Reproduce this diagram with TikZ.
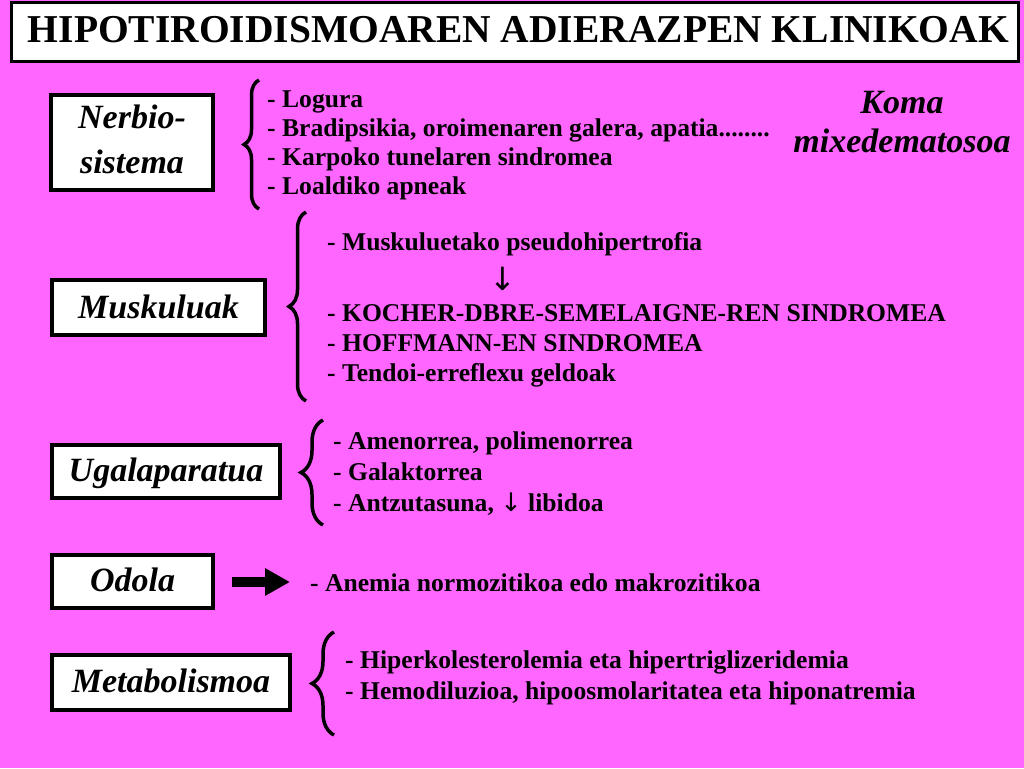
\documentclass[tikz,border=0pt]{standalone}
\usepackage{fontspec}
\setmainfont{Liberation Serif}
\newfontfamily\arrowfont{DejaVu Sans}
\usetikzlibrary{decorations.pathreplacing,arrows.meta}
\definecolor{bg}{HTML}{FF66FF}
\begin{document}
\begin{tikzpicture}[x=1pt,y=-1pt,
  lbl/.style={font=\fontsize{34}{40}\selectfont\bfseries\itshape, inner sep=0, anchor=base},
  itm/.style={font=\fontsize{25.6}{29.5}\selectfont\bfseries, anchor=base west, inner sep=0},
  box/.style={draw=black, line width=4pt, fill=white, inner sep=0},
  brc/.style={draw, line width=3.5pt, decorate, decoration={brace, amplitude=#1}},
]
\useasboundingbox (0,0) rectangle (1024,768);
\fill[bg] (0,0) rectangle (1024,768);

% title
\node[draw=black, line width=3pt, fill=white, inner sep=0, minimum width=1007pt, minimum height=59pt] (title) at (515,32) {};
\node[font=\fontsize{39.5}{44}\selectfont\bfseries, inner sep=0, anchor=base] (titletext) at (518.5,43) {HIPOTIROIDISMOAREN ADIERAZPEN KLINIKOAK};

% boxes
\node[box, minimum width=162pt, minimum height=95pt] (nerbio) at (132,142.5) {};
\node[box, minimum width=213pt, minimum height=55pt] (musku) at (158.5,307.5) {};
\node[box, minimum width=228pt, minimum height=53pt] (ugal) at (166,471.5) {};
\node[box, minimum width=161pt, minimum height=53pt] (odola) at (132.5,581.5) {};
\node[box, minimum width=238pt, minimum height=55pt] (meta) at (171,682.5) {};

\node[lbl] (nerbioT1) at (132,128) {Nerbio-};
\node[lbl] (nerbioT2) at (132,173) {sistema};
\node[lbl] (muskuT) at (158.5,318) {Muskuluak};
\node[lbl] (ugalT) at (166,481.5) {Ugalaparatua};
\node[lbl] (odolaT) at (132.5,591) {Odola};
\node[lbl] (metaT) at (171,692) {Metabolismoa};

\node[lbl] (koma1) at (902,113) {Koma};
\node[lbl] (koma2) at (902,152) {mixedematosoa};

% braces
\draw[brc=15pt] (259,209) -- (259,80);
\draw[brc=17pt] (306,401) -- (306,212);
\draw[brc=22pt] (323,525) -- (323,420);
\draw[brc=22pt] (334,735) -- (334,632);

% Nerbio-sistema items
\node[itm] (n1) at (267,107) {- Logura};
\node[itm] (n2) at (267,136) {- Bradipsikia, oroimenaren galera, apatia........};
\node[itm] (n3) at (267,165) {- Karpoko tunelaren sindromea};
\node[itm] (n4) at (267,194) {- Loaldiko apneak};

% Muskuluak items
\node[itm] (m1) at (327,250) {- Muskuluetako pseudohipertrofia};
\node[font=\fontsize{32}{36}\selectfont\arrowfont, inner sep=0] (marrow) at (503,279) {↓};
\node[itm] (m2) at (327,321) {- KOCHER-DBRE-SEMELAIGNE-REN SINDROMEA};
\node[itm] (m3) at (327,351) {- HOFFMANN-EN SINDROMEA};
\node[itm] (m4) at (327,381) {- Tendoi-erreflexu geldoak};

% Ugalaparatua items
\node[itm] (u1) at (333,449) {- Amenorrea, polimenorrea};
\node[itm] (u2) at (333,480) {- Galaktorrea};
\node[itm] (u3) at (333,511) {- Antzutasuna, {\arrowfont\mdseries ↓} libidoa};

% Odola
\node[itm] (anemia) at (310,591) {- Anemia normozitikoa edo makrozitikoa};
\draw[line width=10pt, -{Triangle[length=25pt,width=26pt]}] ([xshift=17pt]odola.east |- 0,582) -- ([xshift=-20pt]anemia.west |- 0,582);

% Metabolismoa items
\node[itm] (e1) at (345,668) {- Hiperkolesterolemia eta hipertriglizeridemia};
\node[itm] (e2) at (345,699) {- Hemodiluzioa, hipoosmolaritatea eta hiponatremia};
\end{tikzpicture}
\end{document}
